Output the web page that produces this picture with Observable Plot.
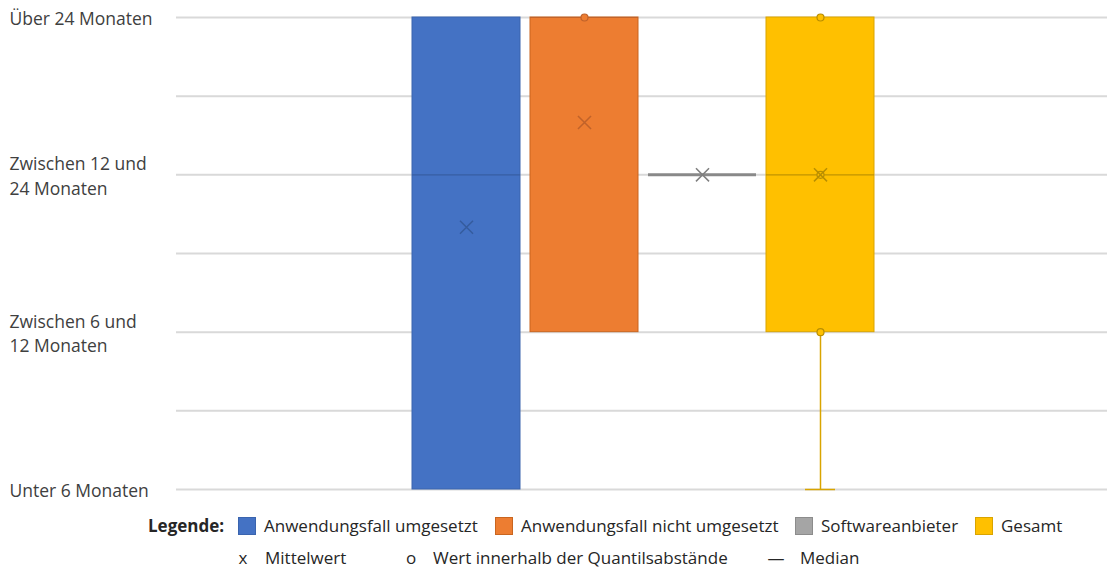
<!DOCTYPE html>
<html>
<head>
<meta charset="utf-8">
<script src="https://cdn.jsdelivr.net/npm/d3@7"></script>
<script src="https://cdn.jsdelivr.net/npm/@observablehq/plot@0.6"></script>
<style>
  body { margin: 0; background: #fff; font-family: "Open Sans", sans-serif; }
  #wrap { position: relative; width: 1107px; height: 570px; }
  #legend { position: absolute; left: 0; top: 505px; width: 1107px; height: 65px; font-size: 17px; color: #262626; }
  .li { position: absolute; display: flex; align-items: center; white-space: nowrap; line-height: 22px; height: 22px; }
  .sw { width: 18px; height: 18px; box-sizing: border-box; border: 1px solid; margin-right: 8px; }
  .sym { width: 18px; text-align: center; margin-right: 13px; }
</style>
</head>
<body>
<div id="wrap">
  <div id="chart"></div>
  <div id="legend"></div>
</div>
<script>
// Box-plot statistics per group (1 = unter 6 Monaten … 4 = über 24 Monaten)
const series = ["Anwendungsfall umgesetzt", "Anwendungsfall nicht umgesetzt", "Softwareanbieter", "Gesamt"];
const q1 = [1, 2, 3, 2];
const q3 = [4, 4, 3, 4];
const medians = [3, 4, 3, 3];
const means = [2.667, 3.333, 3, 3];
const whiskerLow = [1, 2, 3, 1];
const whiskerHigh = [4, 4, 3, 4];

// Inner points (values within the quartile range)
const innerSeries = ["Anwendungsfall nicht umgesetzt", "Gesamt", "Gesamt", "Gesamt"];
const innerValues = [4, 4, 3, 2];

// Y axis
const yTicks = [1, 2, 3, 4];
const yLabels = ["Unter 6 Monaten", "Zwischen 6 und\n12 Monaten", "Zwischen 12 und\n24 Monaten", "Über 24 Monaten"];
const gridValues = [1, 1.5, 2, 2.5, 3, 3.5, 4];

// Colours
const fills = ["#4472C4", "#ED7D31", "#A5A5A5", "#FFC000"];
const strokes = ["#3A64AE", "#C9651F", "#8C8C8C", "#D9A400"];
const markStrokes = ["#355C9E", "#C0622A", "#7F7F7F", "#B98E00"];

const rows = series.map((s, i) => ({
  series: s, q1: q1[i], q3: q3[i], median: medians[i], mean: means[i],
  lo: whiskerLow[i], hi: whiskerHigh[i],
  fill: fills[i], stroke: strokes[i], mark: markStrokes[i]
}));
const colorOf = Object.fromEntries(rows.map(r => [r.series, r]));
const points = innerSeries.map((s, i) => ({series: s, value: innerValues[i], fill: colorOf[s].fill, stroke: colorOf[s].mark}));
const lowWhiskers = rows.filter(r => r.lo < r.q1);
const highWhiskers = rows.filter(r => r.hi > r.q3);

const chart = Plot.plot({
  width: 1107,
  height: 505,
  marginTop: 17,
  marginBottom: 16,
  marginLeft: 176,
  marginRight: 0,
  style: {fontFamily: "Open Sans, sans-serif", fontSize: "17px", color: "#404040", background: "#fff"},
  x: {domain: series, range: [401, 884], padding: 0.085, axis: null},
  y: {domain: [1, 4]},
  color: {type: "identity"},
  marks: [
    Plot.gridY(gridValues, {stroke: "#D9D9D9", strokeOpacity: 1, strokeWidth: 2}),
    Plot.axisY(yTicks, {
      tickSize: 0, textAnchor: "start", dx: -158, fontSize: 17.5, lineHeight: 1.38, fill: "#404040",
      tickFormat: d => yLabels[yTicks.indexOf(d)]
    }),
    Plot.ruleX(lowWhiskers, {x: "series", y1: "lo", y2: "q1", stroke: "stroke", strokeWidth: 1.5}),
    Plot.tickY(lowWhiskers, {x: "series", y: "lo", stroke: "stroke", strokeWidth: 1.5, insetLeft: 39, insetRight: 39}),
    Plot.ruleX(highWhiskers, {x: "series", y1: "q3", y2: "hi", stroke: "stroke", strokeWidth: 1.5}),
    Plot.tickY(highWhiskers, {x: "series", y: "hi", stroke: "stroke", strokeWidth: 1.5, insetLeft: 39, insetRight: 39}),
    Plot.barY(rows.filter(r => r.q3 > r.q1), {x: "series", y1: "q1", y2: "q3", fill: "fill", stroke: "stroke", strokeWidth: 1}),
    Plot.tickY(rows, {x: "series", y: "median", stroke: "mark", strokeWidth: d => d.q1 === d.q3 ? 3 : 1.2, strokeOpacity: 0.9}),
    Plot.dot(points, {x: "series", y: "value", r: 3.5, fill: "fill", stroke: "stroke", strokeWidth: 1.2}),
    Plot.dot(rows, {x: "series", y: "mean", symbol: "times", r: 6, stroke: "mark", strokeWidth: 1.5})
  ]
});
document.getElementById("chart").append(chart);

// Legend below the chart
const legend = document.getElementById("legend");
const row1 = [
  {left: 148, html: '<b style="font-weight:700">Legende:</b>'},
  ...series.map((s, i) => ({
    left: [238, 495, 795, 975][i],
    html: `<span class="sw" style="background:${fills[i]};border-color:${strokes[i]}"></span>${s}`
  }))
];
const row2 = [
  {left: 234, html: '<span class="sym">x</span>Mittelwert'},
  {left: 402, html: '<span class="sym">o</span>Wert innerhalb der Quantilsabstände'},
  {left: 764, html: '<span class="sym" style="width:24px;margin-right:12px">—</span>Median'}
];
for (const [items, top] of [[row1, 10], [row2, 42]]) {
  for (const it of items) {
    const el = document.createElement("div");
    el.className = "li";
    el.style.left = it.left + "px";
    el.style.top = top + "px";
    el.innerHTML = it.html;
    legend.append(el);
  }
}
</script>
</body>
</html>
